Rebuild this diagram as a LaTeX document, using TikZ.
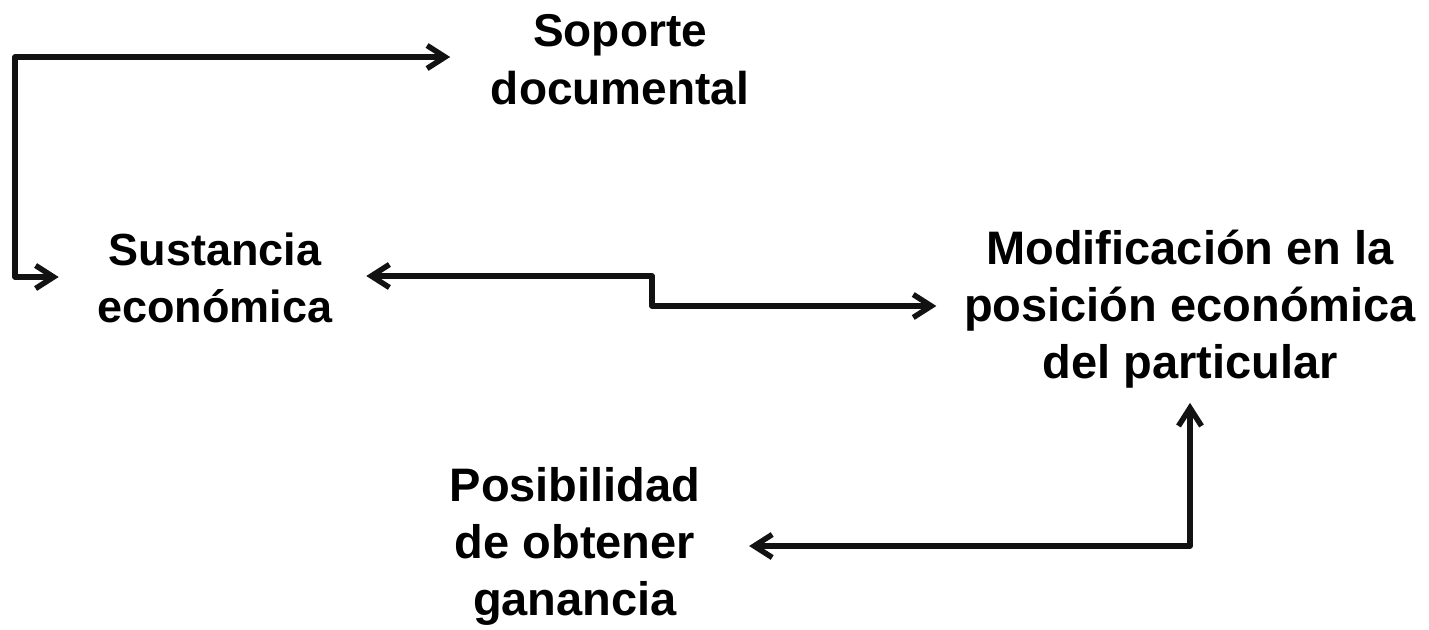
\documentclass[tikz,border=0pt]{standalone}
\usepackage{fontspec}
\setmainfont{Liberation Sans}
\usetikzlibrary{arrows.meta}
\begin{document}
\begin{tikzpicture}[x=1pt, y=1pt, line width=5.5pt, line join=round, line cap=round,
	>={Straight Barb[length=18pt,width=23pt]}, draw=black!93,
	txt/.style={align=center, font=\fontsize{46}{58}\selectfont\bfseries, inner sep=0pt}]
	\useasboundingbox (0,0) rectangle (1429,-629);
	\node[txt] (soporte) at (620,-60) {Soporte\\documental};
	\node[txt, font=\fontsize{45}{57}\selectfont\bfseries] (sustancia) at (215,-278) {Sustancia\\económica};
	\node[txt, font=\fontsize{47}{57}\selectfont\bfseries] (modif) at (1190,-309) {Modificación en la\\posición económica\\del particular};
	\node[txt, font=\fontsize{47}{57}\selectfont\bfseries] (posib) at (575,-546) {Posibilidad\\de obtener\\ganancia};
	\coordinate (izq) at (15,-277);
	\coordinate (paso) at (652,-276);
	\coordinate (esq) at (1190,-546);
	\draw[<->] ([xshift=-36pt,yshift=1pt]sustancia.west) -- (izq) |- ([xshift=-38pt,yshift=3pt]soporte.west);
	\draw[<->] ([xshift=31pt,yshift=2pt]sustancia.east) -- (paso) |- ([xshift=-25pt,yshift=3pt]modif.west);
	\draw[<->] ([yshift=-12pt]modif.south) -- (esq) -- ([xshift=46pt]posib.east |- esq);
\end{tikzpicture}
\end{document}
